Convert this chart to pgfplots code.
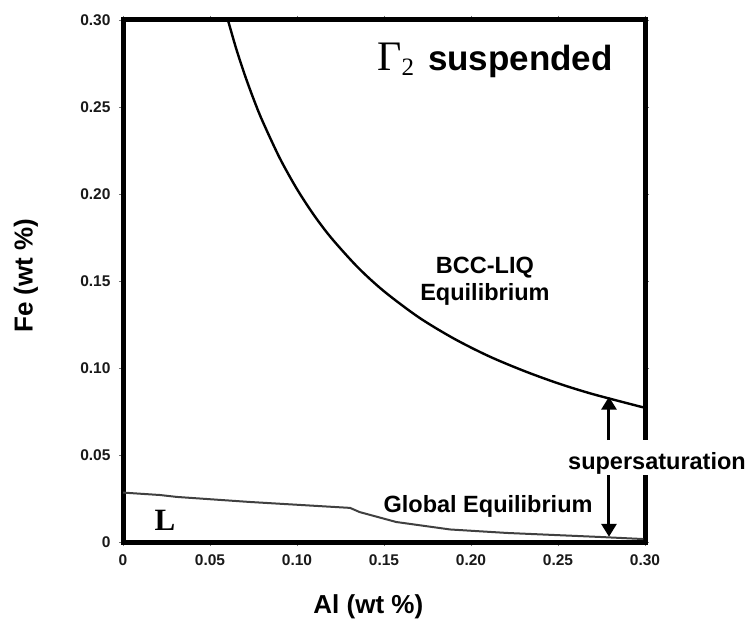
\documentclass[border=0pt]{standalone}
\usepackage{fontspec}
\setmainfont{Liberation Sans}
\newfontfamily\serifL{Liberation Serif}
\usepackage{pgfplots}
\pgfplotsset{compat=1.18}
\usetikzlibrary{arrows.meta}

\begin{document}
\begin{tikzpicture}
\path[use as bounding box] (-123pt,-84pt) rectangle (628pt,542pt);
\begin{axis}[
  scale only axis, width=522pt, height=522pt,
  at={(0,0)}, anchor=south west,
  xmin=0, xmax=0.30, ymin=0, ymax=0.30,
  clip=false,
  xtick={0,0.05,0.10,0.15,0.20,0.25,0.30},
  ytick={0,0.05,0.10,0.15,0.20,0.25,0.30},
  xticklabels={0,0.05,0.10,0.15,0.20,0.25,0.30},
  yticklabels={0,0.05,0.10,0.15,0.20,0.25,0.30},
  axis line style={line width=5pt, black},
  tick align=outside, major tick length=4pt,
  tick style={line width=0.6pt, black!55},
  ticklabel style={font=\bfseries\fontsize{15.5}{15.5}\selectfont, text=black!90},
  xticklabel style={yshift=-5pt},
  yticklabel style={xshift=-5pt},
  xlabel={Al (wt \%)},
  ylabel={Fe (wt \%)},
  label style={font=\bfseries\fontsize{26}{26}\selectfont},
  xlabel style={at={(axis description cs:0.47,-0.1245)}, anchor=center},
  ylabel style={at={(axis description cs:-0.186,0.51)}, anchor=center},
]
% BCC-LIQ equilibrium boundary
\addplot[black, line width=2.4pt, smooth] coordinates {
  (0.0603,0.3000) (0.065,0.2837) (0.070,0.2684) (0.075,0.2547)
  (0.080,0.2423) (0.090,0.2208) (0.100,0.2028) (0.110,0.1875)
  (0.120,0.1744) (0.135,0.1578) (0.150,0.1441) (0.170,0.1291)
  (0.190,0.1170) (0.210,0.1069) (0.230,0.0985) (0.250,0.0912)
  (0.270,0.0850) (0.2989,0.0774)
};
% global equilibrium boundary
\addplot[black!75, line width=2pt] coordinates {
  (0,0.0284) (0.0213,0.0270) (0.031,0.0259) (0.073,0.0230)
  (0.1305,0.0196) (0.136,0.0172) (0.157,0.0115) (0.188,0.0072)
  (0.2207,0.0052) (0.274,0.0029) (0.299,0.0017)
};
% supersaturation arrows
\addplot[black, line width=3pt, -{Triangle[width=15pt,length=13pt]}]
  coordinates {(0.2793,0.0586) (0.2793,0.0835)};
\addplot[black, line width=3pt, -{Triangle[width=15pt,length=13pt]}]
  coordinates {(0.2793,0.0385) (0.2793,0.0030)};

\node[anchor=base west, inner sep=0pt] at (axis cs:0.146,0.2710)
  {{\serifL\fontsize{42}{42}\selectfont Γ}\raisebox{-5pt}{\serifL\fontsize{25}{25}\selectfont 2}\hspace{14pt}{\bfseries\fontsize{35}{35}\selectfont suspended}};
\node[align=center, font=\bfseries\fontsize{23.5}{27}\selectfont]
  at (axis cs:0.2080,0.1497) {BCC-LIQ\\Equilibrium};
\node[font=\bfseries\fontsize{23.5}{27}\selectfont]
  at (axis cs:0.2098,0.0207) {Global Equilibrium};
\node[font=\serifL\bfseries\fontsize{31}{31}\selectfont]
  at (axis cs:0.0241,0.0126) {L};
\coordinate (gapA) at (axis cs:0.289,0.0385);
\coordinate (gapB) at (axis cs:0.311,0.0586);
\coordinate (ss) at (axis cs:0.3069,0.0454);
\end{axis}
\fill[white] (gapA) rectangle (gapB);
\node[font=\bfseries\fontsize{23.5}{27}\selectfont] at (ss) {supersaturation};
\end{tikzpicture}
\end{document}
